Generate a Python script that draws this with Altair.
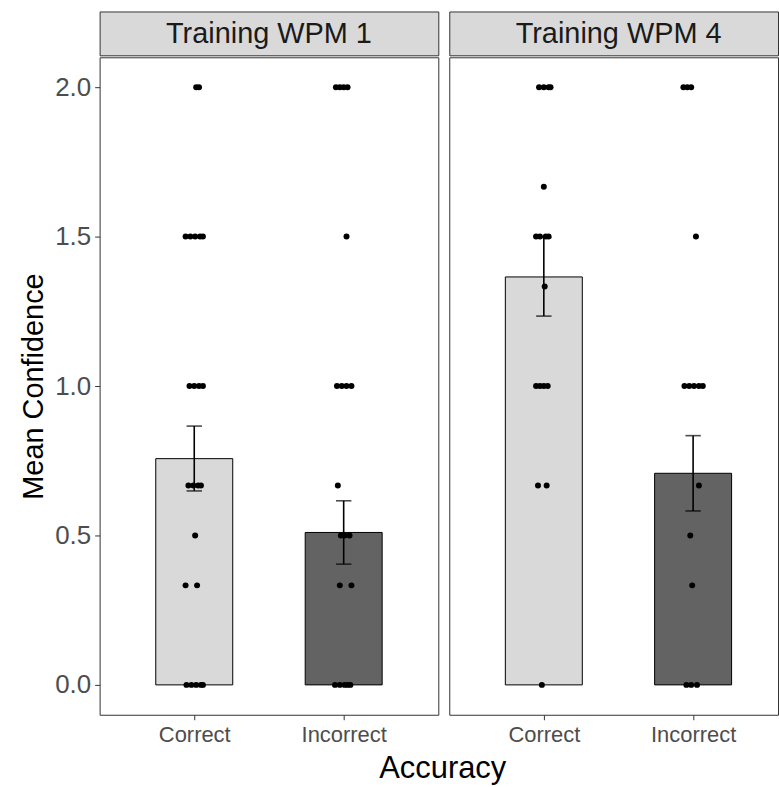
import altair as alt
import pandas as pd

FONT = "Liberation Sans"

panels = ["Training WPM 1", "Training WPM 4"]
categories = ["Correct", "Incorrect"]

# bar summary: mean with error bar (mean ± SE)
bar_panel = ["Training WPM 1", "Training WPM 1", "Training WPM 4", "Training WPM 4"]
bar_acc = ["Correct", "Incorrect", "Correct", "Incorrect"]
bar_mean = [0.757, 0.510, 1.365, 0.708]
bar_lo = [0.649, 0.404, 1.234, 0.582]
bar_hi = [0.866, 0.616, 1.497, 0.834]

# individual participant means (value) with horizontal jitter (category units)
w1_correct_val = [2, 2, 1.5, 1.5, 1.5, 1.5, 1.5, 1, 1, 1, 1, 0.667, 0.667, 0.667, 0.667,
                  0.5, 0.333, 0.333, 0, 0, 0, 0, 0]
w1_correct_jit = [0.013, 0.032, -0.058, -0.026, 0.006, 0.039, 0.058, -0.032, 0.0, 0.032, 0.058,
                  -0.039, -0.006, 0.026, 0.045, 0.006, -0.058, 0.019, -0.052, -0.019, 0.013, 0.045, 0.058]
w1_incorrect_val = [2, 2, 2, 2, 1.5, 1, 1, 1, 1, 0.667, 0.5, 0.5, 0.5, 0.333, 0.333, 0, 0, 0, 0, 0]
w1_incorrect_jit = [-0.052, -0.026, 0.0, 0.026, 0.019, -0.045, -0.013, 0.019, 0.052, -0.039,
                    -0.019, 0.006, 0.039, -0.026, 0.052, -0.058, -0.026, 0.006, 0.026, 0.045]
w4_correct_val = [2, 2, 2, 2, 1.667, 1.5, 1.5, 1.5, 1.5, 1.333, 1, 1, 1, 1, 0.667, 0.667, 0]
w4_correct_jit = [-0.032, 0.0, 0.032, 0.045, 0.0, -0.052, -0.026, 0.013, 0.032, 0.006,
                  -0.052, -0.026, 0.0, 0.026, -0.039, 0.019, -0.013]
w4_incorrect_val = [2, 2, 2, 1.5, 1, 1, 1, 1, 1, 0.667, 0.5, 0.333, 0, 0, 0]
w4_incorrect_jit = [-0.065, -0.039, -0.013, 0.019, -0.058, -0.026, 0.006, 0.039, 0.065,
                    0.039, -0.019, -0.006, -0.045, -0.013, 0.026]

groups = [
    ("Training WPM 1", "Correct", w1_correct_val, w1_correct_jit),
    ("Training WPM 1", "Incorrect", w1_incorrect_val, w1_incorrect_jit),
    ("Training WPM 4", "Correct", w4_correct_val, w4_correct_jit),
    ("Training WPM 4", "Incorrect", w4_incorrect_val, w4_incorrect_jit),
]
rows = []
for p, a, vals, jits in groups:
    for v, j in zip(vals, jits):
        rows.append({"panel": p, "acc": a, "pos": categories.index(a) + 1, "value": v, "jitter": j})
points_df = pd.DataFrame(rows)

bars_df = pd.DataFrame({
    "panel": bar_panel, "acc": bar_acc,
    "pos": [categories.index(a) + 1 for a in bar_acc],
    "mean": bar_mean, "lo": bar_lo, "hi": bar_hi,
})

PX_PER_UNIT = 340 / 2.2
Y_SCALE = alt.Scale(domain=[-0.1, 2.1], nice=False, zero=False)
COLOR_SCALE = alt.Scale(domain=categories, range=["#d9d9d9", "#636363"])


def make_panel(name, width, first):
    xmax = 0.4 + width / PX_PER_UNIT
    xscale = alt.Scale(domain=[0.4, xmax], nice=False, zero=False)
    xaxis = alt.Axis(
        values=[1, 2],
        labelExpr="datum.value == 1 ? 'Correct' : 'Incorrect'",
        labelFontSize=22, labelColor="#4d4d4d", labelPadding=5,
        tickSize=5, tickColor="#333333", tickWidth=1,
        domain=False, grid=False, title=None,
    )
    if first:
        yaxis = alt.Axis(
            values=[0, 0.5, 1, 1.5, 2], format=".1f",
            labelFontSize=26, labelColor="#4d4d4d", labelPadding=4,
            tickSize=5, tickColor="#333333", tickWidth=1,
            domain=False, grid=False,
            title="Mean Confidence", titleFontSize=29, titleFontWeight="normal",
            titleColor="#000000", titlePadding=6,
        )
    else:
        yaxis = None

    bdf = bars_df[bars_df.panel == name]
    pdf = points_df[points_df.panel == name]

    base_b = alt.Chart(bdf)
    bars = base_b.mark_bar(size=PX_PER_UNIT * 0.5, stroke="#000000", strokeWidth=1).encode(
        x=alt.X("pos:Q", scale=xscale, axis=xaxis),
        y=alt.Y("mean:Q", scale=Y_SCALE, axis=yaxis),
        y2=alt.datum(0),
        color=alt.Color("acc:N", scale=COLOR_SCALE, legend=None),
    )
    err = base_b.mark_rule(color="#000000", strokeWidth=1.6).encode(
        x=alt.X("pos:Q", scale=xscale),
        y=alt.Y("lo:Q", scale=Y_SCALE),
        y2="hi:Q",
    )
    cap_lo = base_b.mark_tick(orient="horizontal", color="#000000", thickness=1.6,
                              size=PX_PER_UNIT * 0.1).encode(
        x=alt.X("pos:Q", scale=xscale), y=alt.Y("lo:Q", scale=Y_SCALE))
    cap_hi = base_b.mark_tick(orient="horizontal", color="#000000", thickness=1.6,
                              size=PX_PER_UNIT * 0.1).encode(
        x=alt.X("pos:Q", scale=xscale), y=alt.Y("hi:Q", scale=Y_SCALE))
    pts = alt.Chart(pdf).transform_calculate(xj="datum.pos + datum.jitter").mark_circle(
        size=36, color="#000000", opacity=1).encode(
        x=alt.X("xj:Q", scale=xscale),
        y=alt.Y("value:Q", scale=Y_SCALE),
    )
    main = alt.layer(bars, err, cap_lo, cap_hi, pts).properties(
        width=width, height=660,
        view=alt.ViewBackground(fill="#ffffff", stroke="#333333", strokeWidth=1),
    )
    strip = alt.Chart(pd.DataFrame({"panel": [name]})).mark_text(
        fontSize=29, color="#1a1a1a", baseline="middle", align="center", font=FONT).encode(
        x=alt.value(170), y=alt.value(23), text="panel:N"
    ).properties(
        width=width, height=44,
        view=alt.ViewBackground(fill="#d9d9d9", stroke="#333333", strokeWidth=1),
    )
    return alt.vconcat(strip, main, spacing=0)


p1 = make_panel("Training WPM 1", 340, True)
p2 = make_panel("Training WPM 4", 330, False)

chart = alt.hconcat(p1, p2, spacing=9).properties(
    padding={"left": 19, "top": 9, "right": 0, "bottom": 3},
    background="#ffffff",
    title=alt.TitleParams(
        "Accuracy", orient="bottom", anchor="middle", fontSize=31,
        fontWeight="normal", color="#000000", font=FONT, dx=44, offset=8,
    ),
).configure(font=FONT).configure_view(stroke="#333333")

chart.save("out.html", embed_options={"renderer": "svg", "actions": False})
